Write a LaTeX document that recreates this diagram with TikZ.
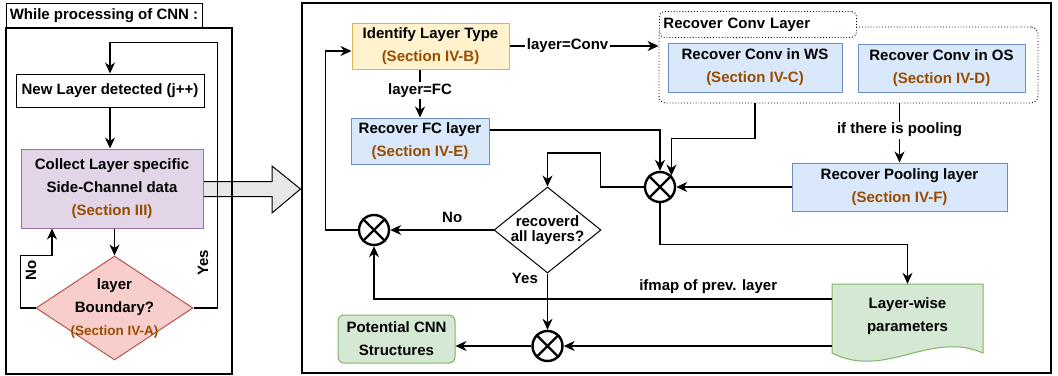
\documentclass[tikz,border=0pt]{standalone}
\usepackage{fontspec}
\setmainfont{Liberation Sans}
\usetikzlibrary{arrows.meta,positioning,shapes.geometric}

\definecolor{secbrown}{HTML}{994C00}
\definecolor{blueF}{HTML}{DAE8FC}
\definecolor{blueD}{HTML}{6C8EBF}
\definecolor{yellowF}{HTML}{FFF2CC}
\definecolor{yellowD}{HTML}{D6B656}
\definecolor{purpleF}{HTML}{E1D5E7}
\definecolor{purpleD}{HTML}{9673A6}
\definecolor{redF}{HTML}{F8CECC}
\definecolor{redD}{HTML}{B85450}
\definecolor{greenF}{HTML}{D5E8D4}
\definecolor{greenD}{HTML}{82B366}

\newcommand{\sectxt}[1]{\textcolor{secbrown}{#1}}

\tikzset{
  txt/.style={font=\bfseries\fontsize{15}{23}\selectfont, align=center, inner sep=0pt},
  plainbox/.style={txt, draw, line width=1pt},
  bluebox/.style={txt, draw=blueD, fill=blueF, line width=1pt},
  lbl/.style={txt, fill=white, inner sep=1.5pt},
  frame/.style={draw, line width=1.2pt},
  mux/.style={circle, draw, line width=2.4pt, minimum size=30pt, inner sep=0pt},
  arr/.style={-{Stealth[length=11pt,width=10pt,inset=3.5pt]}, line width=1.3pt},
}

\begin{document}
\begin{tikzpicture}[x=1pt, y=-1pt]
  \useasboundingbox (0,0) rectangle (1058,375);

  % hand-over arrow between the two panels
  \draw[fill=gray!18, line width=1pt] (203,181.5) -- (272,181.5) -- (272,166)
        -- (300.5,189) -- (272,213) -- (272,196.5) -- (203,196.5) -- cycle;

  % left panel
  \node[plainbox, minimum width=196, minimum height=25] (title) at (104,15.5)
        {While processing of CNN :};
  \draw[frame] (6,28) rectangle (232,374);
  \node[plainbox, minimum width=188, minimum height=33] (nl) at (110,90.5)
        {New Layer detected (j++)};
  \node[txt, draw=purpleD, fill=purpleF, line width=1pt, minimum width=182,
        minimum height=79] (cl) at (112,188.5)
        {Collect Layer specific\\Side-Channel data\\\sectxt{(Section III)}};
  \node[diamond, draw=redD, fill=redF, line width=1pt, inner sep=0pt,
        minimum width=157, minimum height=104,
        label={[txt]center:{layer\\Boundary?\\{\fontsize{13.5}{22}\selectfont\sectxt{(Section IV-A)}}}}]
        (lb) at (114.5,308) {};

  \draw[arr] (nl.south) -- (nl.south |- cl.north);
  \draw[arr] (lb.north |- cl.south) -- (lb.north);
  \draw[arr] (lb.east) -- ++(24,0) |- ([yshift=31pt]nl.north) -- (nl.north);
  \draw[arr] (lb.west) -- ++(-15,0) |- ([xshift=-60pt, yshift=-27pt]cl.south)
        -- ([xshift=-60pt]cl.south);
  \node[txt, rotate=90] (yeslbl) at (203,263) {Yes};
  \node[txt, rotate=90] (nolbl) at (31,270) {No};

  % right panel
  \draw[frame] (302,3) rectangle (1051,373);
  \node[txt, draw=yellowD, fill=yellowF, line width=1pt, minimum width=157,
        minimum height=46] (ilt) at (430.5,46)
        {Identify Layer Type\\\sectxt{(Section IV-B)}};
  \node[bluebox, minimum width=138, minimum height=46] (fc) at (420,141)
        {Recover FC layer\\\sectxt{(Section IV-E)}};

  \node[draw, dotted, line width=0.9pt, rounded corners=7pt, minimum width=379,
        minimum height=76] (convgrp) at (848.5,65) {};
  \node[txt, draw, dotted, line width=0.9pt, rounded corners=5pt, fill=white,
        text width=189, inner xsep=4pt, align=left, minimum height=26,
        anchor=north west] (convtab) at (659,11) {Recover Conv Layer};
  \node[bluebox, minimum width=174, minimum height=49] (ws) at (755,67.5)
        {Recover Conv in WS\\\sectxt{(Section IV-C)}};
  \node[bluebox, minimum width=167, minimum height=48] (os) at (941.5,68)
        {Recover Conv in OS\\\sectxt{(Section IV-D)}};
  \node[bluebox, minimum width=215, minimum height=48] (pool) at (899.5,187)
        {Recover Pooling layer\\\sectxt{(Section IV-F)}};

  \node[mux] (m1) at (660,187) {};
  \node[mux] (m2) at (374,230) {};
  \node[mux] (m3) at (547.5,346) {};
  \foreach \m in {m1,m2,m3}
    \draw[line width=2.4pt] (\m.north west) -- (\m.south east)
                            (\m.north east) -- (\m.south west);

  \node[diamond, draw, line width=1pt, inner sep=0pt, minimum width=107,
        minimum height=86,
        label={[txt, font=\bfseries\fontsize{15}{15}\selectfont]center:{recoverd\\all layers?}}]
        (dec) at (547.5,230) {};

  \node[txt, draw=greenD, fill=greenF, line width=1pt, rounded corners=6pt,
        minimum width=117, minimum height=48] (pcs) at (396.5,339)
        {Potential CNN\\Structures};

  \draw[draw=greenD, fill=greenF, line width=1pt] (832,284) -- (983,284) -- (983,353)
        .. controls (930,330) and (885,380) .. (832,353) -- cycle;
  \node[txt, minimum width=151, minimum height=64] (lw) at (907.5,316)
        {Layer-wise\\parameters};

  % connectors
  \draw[arr] (ilt.east) -- node[lbl, pos=0.39] {layer=Conv} (ilt.east -| convgrp.west);
  \draw[arr] (fc.north |- ilt.south) -- node[lbl, pos=0.43] {layer=FC} (fc.north);
  \draw[arr] (pool.north |- convgrp.south) -- node[lbl, pos=0.45] {if there is pooling} (pool.north);
  \draw[arr] ([yshift=11pt]fc.east) -| (m1.north);
  \draw[arr] (ws.south |- convgrp.south) -- ++(0,35) -| (m1.45);
  \draw[arr] (pool.west) -- (m1.east);
  \draw[arr] (m1.south) -- ++(0,41) -| (lw.north);
  \draw[arr] (m1.west) -- ++(-43,0) -- ++(0,-34) -| (dec.north);
  \draw[arr] (dec.west) -- node[txt, above=7pt, pos=0.4] {No} (m2.east);
  \draw[arr] (m2.west) -- ++(-32,0) |- ([yshift=-5pt]ilt.west);
  \draw[arr] ([yshift=17pt]lw.west) -| node[txt, above=5pt, pos=0.135] {ifmap of prev. layer} (m2.south);
  \draw[arr] (dec.south) -- node[txt, left=9pt, pos=0.09] {Yes} (m3.north);
  \draw[arr] (m3.east -| lw.west) -- (m3.east);
  \draw[arr] (m3.west) -- (m3.west -| pcs.east);
\end{tikzpicture}
\end{document}
